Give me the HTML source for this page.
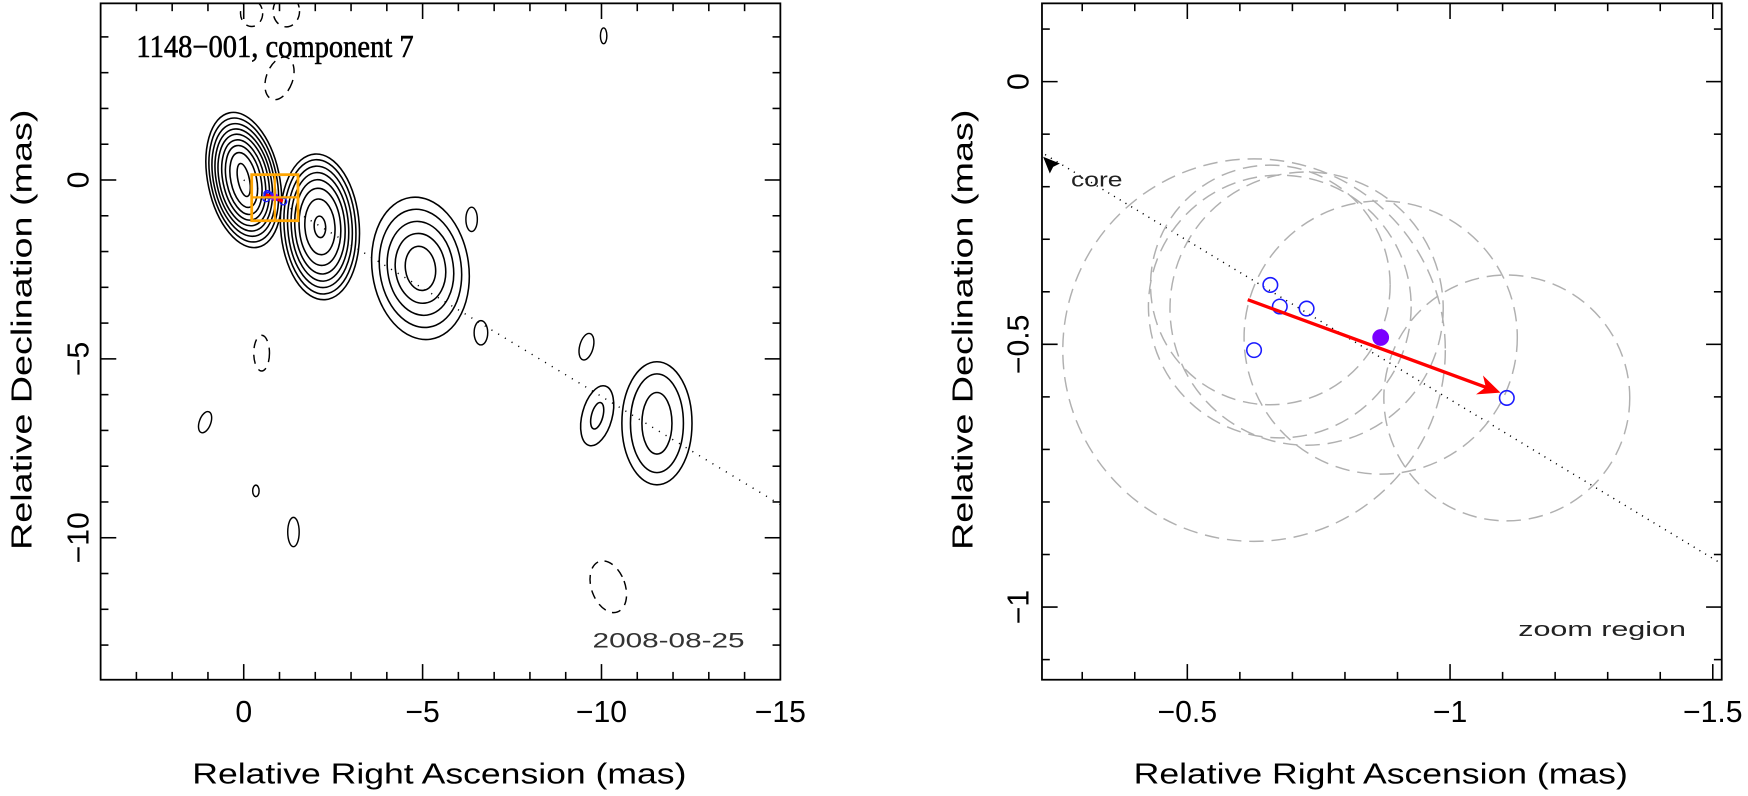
<!DOCTYPE html>
<html><head><meta charset="utf-8"><title>1148-001 component 7</title>
<style>html,body{margin:0;padding:0;background:#fff;}svg{display:block;}
text{font-family:"Liberation Sans",sans-serif;fill:#000;}</style></head>
<body>
<svg id="fig" xmlns="http://www.w3.org/2000/svg" width="1748" height="796" viewBox="0 0 1563.5 712" preserveAspectRatio="none">
<g id="left">
  <rect x="90" y="3" width="608" height="605" fill="none" stroke="#000" stroke-width="1.6"/>
  <text x="122" y="51" font-size="28" textLength="248" lengthAdjust="spacingAndGlyphs" style="font-family:'Liberation Serif',serif;stroke:#000;stroke-width:0.5">1148−001, component 7</text>
  <text x="530" y="579" font-size="19" textLength="136" lengthAdjust="spacingAndGlyphs" style="fill:#333">2008-08-25</text>
  <text x="172" y="701" font-size="26" textLength="442" lengthAdjust="spacingAndGlyphs">Relative Right Ascension (mas)</text>
  <text transform="translate(28,492) rotate(-90)" font-size="26" textLength="394" lengthAdjust="spacingAndGlyphs">Relative Declination (mas)</text>
</g>
<g id="right">
  <rect x="932" y="3" width="608" height="605" fill="none" stroke="#000" stroke-width="1.6"/>
  <text x="958" y="167" font-size="18" textLength="46" lengthAdjust="spacingAndGlyphs" style="fill:#222">core</text>
  <text x="1358" y="569" font-size="18" textLength="150" lengthAdjust="spacingAndGlyphs" style="fill:#222">zoom region</text>
  <text x="1014" y="701" font-size="26" textLength="442" lengthAdjust="spacingAndGlyphs">Relative Right Ascension (mas)</text>
  <text transform="translate(870,492) rotate(-90)" font-size="26" textLength="394" lengthAdjust="spacingAndGlyphs">Relative Declination (mas)</text>
</g>
</svg>
<script>
// ---------- LEFT PANEL DATA (mas) ----------
const leftXTicks = [0, -5, -10, -15];
const leftXTickLabels = ["0", "−5", "−10", "−15"];
const leftYTicks = [0, -5, -10];
const leftYTickLabels = ["0", "−5", "−10"];
const compRA   = [0, -2.13, -4.94, -9.88, -11.55];
const compDec  = [0, -1.31, -2.47, -6.59, -6.8];
const compTilt = [-12, -4, -8, 15, 0];
const compRX = [[0.16,0.36,0.48,0.58,0.68,0.76,0.84,0.92,1.0],[0.16,0.42,0.58,0.7,0.8,0.9,1.0,1.1],[0.42,0.7,0.92,1.14,1.35],[0.16,0.42],[0.42,0.74,0.98]];
const compRY = [[0.47,0.78,0.98,1.14,1.3,1.45,1.6,1.76,1.92],[0.3,0.78,1.08,1.32,1.52,1.7,1.88,2.04],[0.62,0.98,1.32,1.66,2.0],[0.38,0.86],[0.86,1.38,1.72]];
const blobRA   = [-6.37, -6.63, -9.58, 1.08, -0.34, -1.39, -10.06];
const blobDec  = [-1.10, -4.27, -4.66, -6.77, -8.69, -9.84, 4.03];
const blobRX   = [0.16, 0.19, 0.19, 0.16, 0.09, 0.16, 0.09];
const blobRY   = [0.34, 0.34, 0.38, 0.31, 0.16, 0.41, 0.22];
const blobTilt = [0, 0, 15, 20, 0, 0, 0];
const negRA   = [-0.5, -10.19, -0.22, -1.19, -1.0];
const negDec  = [-4.84, -11.37, 4.66, 4.72, 2.84];
const negRX   = [0.22, 0.47, 0.31, 0.37, 0.37];
const negRY   = [0.5, 0.75, 0.37, 0.44, 0.62];
const negTilt = [0, -20, 0, 0, 20];
const jetPA = 0.605;

// ---------- RIGHT PANEL DATA (mas) ----------
const rightXTicks = [-0.5, -1, -1.5];
const rightXTickLabels = ["−0.5", "−1", "−1.5"];
const rightYTicks = [0, -0.5, -1];
const rightYTickLabels = ["0", "−0.5", "−1"];
const epochRA  = [-0.658, -0.676, -0.727, -0.627, -1.108];
const epochDec = [-0.387, -0.428, -0.432, -0.511, -0.602];
const epochSizeR = [0.228, 0.25, 0.26, 0.364, 0.234];
const fitRA = -0.868, fitDec = -0.487, fitR = 0.26;
const arrowStart = [-0.615, -0.415];
const arrowEnd = [-1.096, -0.592];

const NS = "http://www.w3.org/2000/svg";
const svg = document.getElementById('fig');
const gL = document.getElementById('left'), gR = document.getElementById('right');
function mk(tag, attrs, parent){const e=document.createElementNS(NS,tag);for(const k in attrs)e.setAttribute(k,attrs[k]);parent.appendChild(e);return e;}

const L = {x0:90,x1:698,y0:3,y1:608, sx:ra=>218-32*ra, sy:d=>161-32*d, s:32};
const R = {x0:932,x1:1540,y0:3,y1:608, sx:ra=>1062-470*(ra+0.5), sy:d=>73-470*d, s:470};

const defs = mk('defs',{},svg);
for (const [id,P] of [['clipL',L],['clipR',R]]) {
  const cp = mk('clipPath',{id:id},defs);
  mk('rect',{x:P.x0,y:P.y0,width:P.x1-P.x0,height:P.y1-P.y0},cp);
}
const cL = mk('g',{'clip-path':'url(#clipL)'},gL);


const cR = mk('g',{'clip-path':'url(#clipR)'},gR);



function ticks(P, g, minorStepX, minorStepY, majorX, majorY, xr, yr, name){
  const eps=1e-6;
  for(let v=xr[0]; v>=xr[1]-eps; v-=minorStepX){
    const x=P.sx(v); if(x<P.x0+1||x>P.x1-1) continue;
    const maj = Math.abs(v/majorX-Math.round(v/majorX))<1e-4;
    const len = maj?14:7;
    const t1=mk('line',{x1:x,x2:x,y1:P.y1,y2:P.y1-len,stroke:'#000','stroke-width':1.4},g);
    
    
    const t2=mk('line',{x1:x,x2:x,y1:P.y0,y2:P.y0+len,stroke:'#000','stroke-width':1.4},g);
    
    
  }
  for(let v=yr[0]; v>=yr[1]-eps; v-=minorStepY){
    const y=P.sy(v); if(y<P.y0+1||y>P.y1-1) continue;
    const maj = Math.abs(v/majorY-Math.round(v/majorY))<1e-4;
    const len = maj?14:7;
    const t1=mk('line',{x1:P.x0,x2:P.x0+len,y1:y,y2:y,stroke:'#000','stroke-width':1.4},g);
    
    
    const t2=mk('line',{x1:P.x1,x2:P.x1-len,y1:y,y2:y,stroke:'#000','stroke-width':1.4},g);
    
    
  }
}
ticks(L,gL,1,1,5,5,[4,-15],[5,-14],'left');
ticks(R,gR,0.1,0.1,0.5,0.5,[-0.2,-1.5],[0.1,-1.1],'right');

function xlabels(P,g,vals,labs,y,name){
  vals.forEach((v,i)=>{const t=mk('text',{x:P.sx(v),y:y,'font-size':27,'text-anchor':'middle'},g);
    
    
    t.textContent=labs[i];});
}
function ylabels(P,g,vals,labs,x,name){
  vals.forEach((v,i)=>{const t=mk('text',{transform:`translate(${x},${P.sy(v)}) rotate(-90)`,'font-size':27,'text-anchor':'middle'},g);
    
    
    t.textContent=labs[i];});
}
xlabels(L,gL,leftXTicks,leftXTickLabels,646,'left');
ylabels(L,gL,leftYTicks,leftYTickLabels,79,'left');
xlabels(R,gR,rightXTicks,rightXTickLabels,646,'right');
ylabels(R,gR,rightYTicks,rightYTickLabels,920,'right');

function ell(P,g,ra,dec,rx,ry,tilt,style){
  const cx=P.sx(ra), cy=P.sy(dec);
  return mk('ellipse',Object.assign({cx:cx,cy:cy,rx:rx*P.s,ry:ry*P.s,transform:`rotate(${tilt} ${cx} ${cy})`,fill:'none'},style),g);
}
const jl = mk('line',{x1:L.sx(0),y1:L.sy(0),x2:L.sx(-15),y2:L.sy(-15*jetPA),stroke:'#000','stroke-width':1.3,'stroke-dasharray':'1 6'},cL);


compRA.forEach((ra,i)=>{
  compRX[i].forEach((rx,j)=>{
    const e=ell(L,cL,ra,compDec[i],rx,compRY[i][j],compTilt[i],{stroke:'#000','stroke-width':1.4});
    
    
  });
});
blobRA.forEach((ra,i)=>{
  const e=ell(L,cL,ra,blobDec[i],blobRX[i],blobRY[i],blobTilt[i],{stroke:'#000','stroke-width':1.3});
  
  
});
negRA.forEach((ra,i)=>{
  const e=ell(L,cL,ra,negDec[i],negRX[i],negRY[i],negTilt[i],{stroke:'#000','stroke-width':1.3,'stroke-dasharray':'8 6'});
  
  
});
epochRA.forEach((ra,i)=>{
  const c=mk('circle',{cx:L.sx(ra),cy:L.sy(epochDec[i]),r:3,fill:'none',stroke:'#1a1aff','stroke-width':1.2},cL);
  
  
});
const ma=mk('line',{x1:L.sx(arrowStart[0]),y1:L.sy(arrowStart[1]),x2:L.sx(arrowEnd[0]),y2:L.sy(arrowEnd[1]),stroke:'#f00','stroke-width':3},cL);


const md=mk('circle',{cx:L.sx(fitRA),cy:L.sy(fitDec),r:3.5,fill:'#7a00ff'},cL);


const raL=-0.5+(1062-R.x0)/470, raR=-0.5+(1062-R.x1)/470, dT=(73-R.y0)/470, dB=(73-R.y1)/470;
const zb=mk('rect',{x:L.sx(raL),y:L.sy(dT),width:L.sx(raR)-L.sx(raL),height:L.sy(dB)-L.sy(dT),fill:'none',stroke:'#ffa500','stroke-width':2.5},cL);


const zh=mk('line',{x1:L.sx(raL),x2:L.sx(raR),y1:L.sy(fitDec),y2:L.sy(fitDec),stroke:'#ffa500','stroke-width':2},cL);


const zv=mk('line',{x1:L.sx(fitRA),x2:L.sx(fitRA),y1:L.sy(dT),y2:L.sy(dB),stroke:'#ffa500','stroke-width':2},cL);



const rl=mk('line',{x1:R.sx(0),y1:R.sy(0),x2:R.sx(-1.6),y2:R.sy(-1.6*jetPA),stroke:'#000','stroke-width':1.3,'stroke-dasharray':'1 5'},cR);


epochRA.forEach((ra,i)=>{
  const c=mk('circle',{cx:R.sx(ra),cy:R.sy(epochDec[i]),r:epochSizeR[i]*470,fill:'none',stroke:'#b0b0b0','stroke-width':1.3,'stroke-dasharray':'13 7'},cR);
  
  
});
const fc=mk('circle',{cx:R.sx(fitRA),cy:R.sy(fitDec),r:fitR*470,fill:'none',stroke:'#b0b0b0','stroke-width':1.3,'stroke-dasharray':'13 7'},cR);


const ca=mk('polygon',{points:'0,0 15,6 9,9 6,15',fill:'#000',transform:`translate(${R.x0+1},${R.sy(-0.24*jetPA)-1})`},gR);


epochRA.forEach((ra,i)=>{
  const c=mk('circle',{cx:R.sx(ra),cy:R.sy(epochDec[i]),r:6.5,fill:'none',stroke:'#1a1aff','stroke-width':1.4},cR);
  
  
});
const fd=mk('circle',{cx:R.sx(fitRA),cy:R.sy(fitDec),r:7.5,fill:'#7a00ff'},cR);


const ax1=R.sx(arrowStart[0]), ay1=R.sy(arrowStart[1]), ax2=R.sx(arrowEnd[0]), ay2=R.sy(arrowEnd[1]);
const ang=Math.atan2(ay2-ay1,ax2-ax1)*180/Math.PI;
const al=mk('line',{x1:ax1,y1:ay1,x2:ax2-10*Math.cos(ang*Math.PI/180),y2:ay2-10*Math.sin(ang*Math.PI/180),stroke:'#f00','stroke-width':3},cR);


const ah=mk('polygon',{points:'0,0 -20,-9 -14,0 -20,9',fill:'#f00',transform:`translate(${ax2},${ay2}) rotate(${ang})`},cR);


</script>
</body></html>
